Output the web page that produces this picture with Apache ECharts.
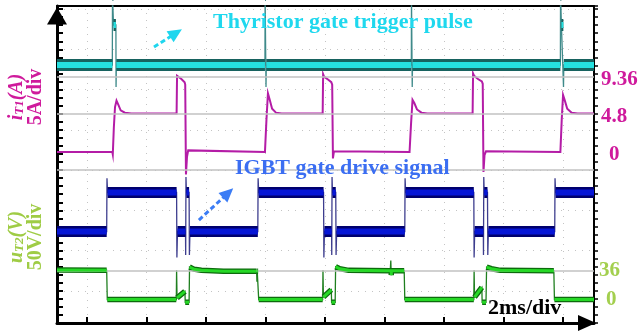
<!DOCTYPE html>
<html>
<head>
<meta charset="utf-8">
<script src="https://cdn.jsdelivr.net/npm/echarts@6/dist/echarts.min.js"></script>
<style>
  html, body { margin: 0; padding: 0; background: #fff; }
  #chart { width: 641px; height: 332px; }
</style>
</head>
<body>
<div id="chart"></div>
<script>
// Time base: ms, 2 ms per division
const timeTicks = [1, 3, 5, 7, 9, 11, 13, 15, 17];
const timeMax = 18.05;

// Screen frame in minor divisions (5 per major division)
const frameMax = 39.38;
const divisionRows = [4, 9, 14, 19, 24, 29, 34, 39];
const channelDivider = 19;

// Thyristor gate trigger pulse [t (ms), level]
const triggerTrace = [
  [0, 0], [1.86, 0], [1.865, 35], [1.895, 35], [1.90, 20], [1.98, 20], [1.985, -11], [1.995, 0],
  [6.99, 0], [6.995, 35], [7.02, 35], [7.025, -11], [7.035, 0],
  [11.91, 0], [11.915, 35], [11.935, 35], [11.94, -11], [11.95, 0],
  [16.92, 0], [16.925, 35], [16.95, 35], [16.955, 20], [17.02, 20], [17.025, -11], [17.035, 0],
  [18.05, 0]
];

// Thyristor current iT1 [t (ms), A]
const currentTrace = [
  [0, 0], [1.86, 0], [1.875, -0.3], [1.91, 3], [1.95, 5.6], [2.0, 6.4], [2.06, 5.9], [2.14, 5.2], [2.28, 4.9], [2.5, 4.8],
  [4.02, 4.8], [4.035, 9.5], [4.07, 9.36], [4.18, 9.1], [4.29, 8.7], [4.31, 8.4], [4.335, -2.8], [4.37, -0.6], [4.41, 0.2], [4.46, 0],
  [6.99, 0], [7.0, -0.2], [7.04, 4], [7.09, 7.3], [7.15, 6.5], [7.23, 5.4], [7.36, 4.9], [7.55, 4.8],
  [8.93, 4.8], [8.945, 9.7], [8.98, 9.36], [9.12, 9.0], [9.22, 8.7], [9.25, 8.4], [9.275, -0.8], [9.31, 0.1], [9.35, 0],
  [11.85, 0], [11.86, -0.2], [11.90, 3.5], [11.95, 6.5], [12.01, 6.1], [12.1, 5.3], [12.25, 4.9], [12.45, 4.8],
  [13.97, 4.8], [13.985, 9.8], [14.02, 9.5], [14.15, 9.1], [14.28, 8.8], [14.31, 8.5], [14.335, -2.5], [14.37, -0.4], [14.42, 0.1], [14.46, 0],
  [16.92, 0], [16.93, -0.2], [16.965, 4], [17.01, 7.1], [17.07, 6.4], [17.15, 5.4], [17.3, 4.9], [17.5, 4.8], [18.05, 4.8]
];
const currentLabels = [0, 4.8, 9.36];

// IGBT gate drive signal [t (ms), V]
const gateTrace = [
  [0, 0], [1.67, 0], [1.68, 20.5], [1.70, 15], [4.02, 15], [4.03, -10], [4.05, 0],
  [4.32, 0], [4.325, -9], [4.335, 21], [4.35, 15], [4.44, 15], [4.45, -9], [4.47, 0],
  [6.75, 0], [6.76, 20.5], [6.78, 15], [8.96, 15], [8.97, -10], [8.99, 0],
  [9.23, 0], [9.235, -9], [9.245, 21], [9.26, 15], [9.37, 15], [9.38, -9], [9.40, 0],
  [11.69, 0], [11.70, 20.5], [11.72, 15], [14.01, 15], [14.02, -10], [14.04, 0],
  [14.33, 0], [14.335, -9], [14.345, 21], [14.36, 15], [14.47, 15], [14.48, -9], [14.50, 0],
  [16.73, 0], [16.74, 20.5], [16.76, 15], [18.05, 15]
];

// Thyristor voltage uT2 [t (ms), V]
const voltageTrace = [
  [0, 36.5], [1.67, 36], [1.69, 0],
  [4.01, 0], [4.02, 36], [4.035, 2], [4.30, 10], [4.31, -3.5], [4.44, -3.5], [4.455, 40], [4.6, 37.5], [4.85, 36], [5.6, 35],
  [6.71, 35], [6.72, 22], [6.73, 35], [6.76, 35], [6.78, 0],
  [8.93, 0], [8.94, 36], [8.955, 3], [9.22, 12], [9.23, -3.5], [9.35, -3.5], [9.365, 40.5], [9.5, 38], [9.8, 36],
  [11.2, 35.5], [11.22, 48], [11.235, 30], [11.24, 35.5], [11.67, 35.5], [11.69, 0],
  [14.01, 0], [14.02, 36], [14.035, 3], [14.16, 9], [14.28, 15], [14.29, -3.5], [14.42, -3.5], [14.44, 40], [14.6, 38], [14.9, 36],
  [16.70, 35.5], [16.72, 0], [18.05, 0]
];
const voltageLabels = [0, 36];

// Annotation arrows, in each channel's own units
const triggerArrow = [[3.26, 9], [4.0, 16]];
const gateArrow = [[4.77, 4.4], [5.75, 14.8]];

const serif = '"Liberation Serif", "Times New Roman", serif';

// Flat stretches of a trace, broken wherever the level jumps, so the
// thick noise band follows the plateaus while edges stay thin.
function bandOf(trace, jump) {
  const out = [];
  trace.forEach((p, i) => {
    if (i > 0 && Math.abs(p[1] - trace[i - 1][1]) > jump) out.push([p[0], null]);
    out.push(p);
  });
  return out;
}

function trace(data, yAxisIndex, color, width, z) {
  return {
    type: 'line', data, xAxisIndex: 0, yAxisIndex, z,
    showSymbol: false, symbol: 'none', silent: true, clip: true,
    lineStyle: { color, width, cap: 'butt', join: 'miter' }
  };
}

function refLine(yAxisIndex, values) {
  return {
    type: 'line', data: [], xAxisIndex: 0, yAxisIndex, z: 1, silent: true,
    markLine: {
      silent: true, symbol: 'none', label: { show: false }, animation: false,
      lineStyle: { color: '#c2c2c2', width: 1.5, type: 'solid' },
      data: values.map(v => ({ yAxis: v }))
    }
  };
}

function arrow(seriesObj, pts, color) {
  seriesObj.markLine = {
    silent: true, animation: false, label: { show: false },
    symbol: ['none', 'triangle'], symbolSize: [13, 14],
    lineStyle: { color, width: 3, type: [5, 3] },
    data: [[{ coord: pts[0] }, { coord: pts[1] }]]
  };
  return seriesObj;
}

const dotted = { color: '#c4c4c4', width: 1, type: [1, 6] };

const option = {
  animation: false,
  backgroundColor: '#ffffff',
  grid: { left: 57, right: 47, top: 6, bottom: 9, containLabel: false, outerBoundsMode: 'none' },
  xAxis: [
    {
      type: 'value', min: 0, max: timeMax, position: 'bottom',
      axisLine: { show: true, onZero: false, lineStyle: { color: '#000', width: 3 },
        symbol: ['none', 'triangle'], symbolSize: [16, 18], symbolOffset: [0, -7] },
      axisTick: { show: true, inside: true, length: 6, lineStyle: { color: '#000', width: 2 }, customValues: timeTicks },
      axisLabel: { show: false },
      splitLine: { show: true, lineStyle: dotted }
    },
    {
      type: 'value', min: 0, max: timeMax, position: 'top',
      axisLine: { show: true, onZero: false, lineStyle: { color: '#000', width: 2 } },
      axisTick: { show: false }, axisLabel: { show: false }, splitLine: { show: false }
    }
  ],
  yAxis: [
    {
      type: 'value', min: 0, max: frameMax, interval: 1, position: 'left',
      axisLine: { show: true, onZero: false, lineStyle: { color: '#000', width: 3 },
        symbol: ['none', 'triangle'], symbolSize: [20, 17], symbolOffset: [0, -10] },
      axisTick: { show: true, inside: true, length: 6, lineStyle: { color: '#000', width: 2 } },
      axisLabel: { show: false }, splitLine: { show: false }
    },
    {
      type: 'value', min: 0, max: frameMax, interval: 1, position: 'right',
      axisLine: { show: true, onZero: false, lineStyle: { color: '#000', width: 2 } },
      axisTick: { show: true, inside: false, length: 4, lineStyle: { color: '#000', width: 1.5 } },
      axisLabel: { show: false }, splitLine: { show: false }
    },
    {
      type: 'value', min: 0, max: frameMax, position: 'left',
      axisLine: { show: false },
      axisTick: { show: false, customValues: divisionRows },
      axisLabel: { show: false },
      splitLine: { show: true, lineStyle: dotted }
    },
    { type: 'value', min: -129, max: 29.5, show: false },
    {
      type: 'value', min: -21.32, max: 18.2, position: 'right',
      axisLine: { show: false }, axisTick: { show: false }, splitLine: { show: false },
      axisLabel: {
        show: true, customValues: currentLabels, margin: 7,
        color: '#cf1a9c', fontFamily: serif, fontWeight: 'bold', fontSize: 21,
        formatter: v => v === 0 ? '{z|0}' : '{n|' + v + '}',
        rich: {
          n: { color: '#cf1a9c', fontFamily: serif, fontWeight: 'bold', fontSize: 21, padding: [6, 0, 0, 0] },
          z: { color: '#cf1a9c', fontFamily: serif, fontWeight: 'bold', fontSize: 21, padding: [5, 0, 0, 8] }
        }
      }
    },
    { type: 'value', min: -35.19, max: 86.73, show: false },
    {
      type: 'value', min: -29.01, max: 362.3, position: 'right',
      axisLine: { show: false }, axisTick: { show: false }, splitLine: { show: false },
      axisLabel: {
        show: true, customValues: voltageLabels, margin: 5,
        color: '#a3cf4e', fontFamily: serif, fontWeight: 'bold', fontSize: 21,
        formatter: v => v === 0 ? '{z|0}' : '{n|' + v + '}',
        rich: {
          n: { color: '#a3cf4e', fontFamily: serif, fontWeight: 'bold', fontSize: 21 },
          z: { color: '#a3cf4e', fontFamily: serif, fontWeight: 'bold', fontSize: 21, padding: [0, 0, 0, 7] }
        }
      }
    }
  ],
  series: [
    refLine(0, [channelDivider]),
    refLine(4, [9.36, 4.8]),
    refLine(6, [36]),

    trace(currentTrace, 4, '#b41ca6', 2, 3),

    trace(voltageTrace, 6, '#1f7f1f', 1.3, 3),
    trace(bandOf(voltageTrace, 10), 6, '#0d6a0d', 5.5, 4),
    trace(bandOf(voltageTrace, 10), 6, '#26d826', 3, 5),

    arrow(trace(gateTrace, 5, '#3d3d8e', 1.3, 3), gateArrow, '#3b7cf5'),
    trace(bandOf(gateTrace, 3), 5, '#00006e', 11, 4),
    trace(bandOf(gateTrace, 3), 5, '#0616d6', 6, 5),

    arrow(trace(triggerTrace, 3, '#3f8a8a', 1.3, 3), triggerArrow, '#1fd6ee'),
    trace(bandOf(triggerTrace, 3), 3, '#17625f', 12, 4),
    trace(bandOf(triggerTrace, 3), 3, '#25e0e0', 6, 5)
  ],
  graphic: [
    { type: 'text', x: 213, y: 22, z: 10,
      style: { text: 'Thyristor gate trigger pulse', font: 'bold 22px ' + serif, fill: '#1fd8ee', align: 'left', verticalAlign: 'middle' } },
    { type: 'text', x: 235, y: 168, z: 10,
      style: { text: 'IGBT gate drive signal', font: 'bold 22px ' + serif, fill: '#3b6ef2', align: 'left', verticalAlign: 'middle' } },
    { type: 'text', x: 488, y: 308, z: 10,
      style: { text: '2ms/div', font: 'bold 22px ' + serif, fill: '#000000', align: 'left', verticalAlign: 'middle' } },
    { type: 'text', x: 26, y: 97, rotation: Math.PI / 2, z: 10,
      style: {
        text: '{v|i}{s|T1}{v|(A)}\n{u|5A/div}', align: 'center', verticalAlign: 'middle',
        rich: {
          v: { fill: '#cf1a9c', fontFamily: serif, fontWeight: 'bold', fontStyle: 'italic', fontSize: 20, lineHeight: 19 },
          s: { fill: '#cf1a9c', fontFamily: serif, fontWeight: 'bold', fontStyle: 'italic', fontSize: 13, lineHeight: 19, padding: [7, 0, 0, 0] },
          u: { fill: '#cf1a9c', fontFamily: serif, fontWeight: 'bold', fontSize: 20, lineHeight: 19 }
        }
      } },
    { type: 'text', x: 26, y: 237, rotation: Math.PI / 2, z: 10,
      style: {
        text: '{v|u}{s|T2}{v|(V)}\n{u|50V/div}', align: 'center', verticalAlign: 'middle',
        rich: {
          v: { fill: '#9fcc45', fontFamily: serif, fontWeight: 'bold', fontStyle: 'italic', fontSize: 20, lineHeight: 19 },
          s: { fill: '#9fcc45', fontFamily: serif, fontWeight: 'bold', fontStyle: 'italic', fontSize: 13, lineHeight: 19, padding: [7, 0, 0, 0] },
          u: { fill: '#9fcc45', fontFamily: serif, fontWeight: 'bold', fontSize: 20, lineHeight: 19 }
        }
      } }
  ]
};

const chart = echarts.init(document.getElementById('chart'), null, { renderer: 'canvas' });
chart.setOption(option);
</script>
</body>
</html>
